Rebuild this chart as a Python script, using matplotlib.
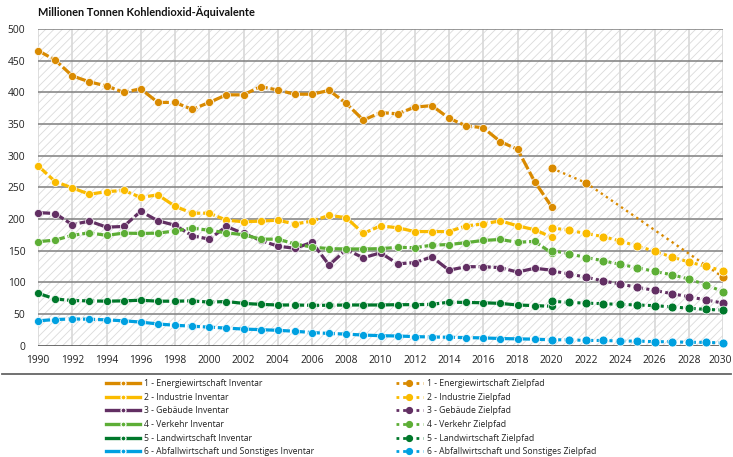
import matplotlib
matplotlib.use("Agg")
import matplotlib.pyplot as plt
from matplotlib.lines import Line2D
from matplotlib.patches import Rectangle
from matplotlib.transforms import ScaledTranslation

plt.rcParams['font.family'] = ['Lato', 'DejaVu Sans']
plt.rcParams['hatch.linewidth'] = 0.6

# ---------------- data ----------------
years_inv = list(range(1990, 2021))
years_ziel = list(range(2020, 2031))
years_energie_ziel = [2020, 2022, 2030]

energie_inv = [466, 451, 426, 416.5, 410, 400, 405.5, 384, 384, 373, 384, 396, 396, 409,
               403.5, 397, 397, 403, 382.5, 356, 368, 366, 376.5, 379, 359, 347, 344,
               322, 310, 259, 219]
industrie_inv = [284, 259, 249, 239, 243, 245, 234, 238, 220, 209, 209, 198, 195.5, 196.5,
                 198, 192, 196.5, 205.5, 202, 177, 189, 186, 180, 180, 180, 189, 192, 197,
                 189, 183, 171]
gebaeude_inv = [210, 208.5, 191, 196.5, 187, 188, 212, 197, 190, 173.5, 168, 188, 177, 166,
                157, 153.5, 163, 127, 151.5, 138.5, 146.5, 129, 131, 140, 119, 124.5,
                124.5, 123, 116, 122, 119]
verkehr_inv = [164, 166.5, 174, 178, 174, 177.5, 177, 177.5, 181, 185.5, 182, 178, 175, 168,
               168, 160.5, 155.5, 153, 152.5, 152.5, 153, 155, 154.5, 158.5, 159.5, 162.5,
               166, 167.5, 163, 164.5, 146]
landwirtschaft_inv = [82.5, 73.5, 71, 70.5, 70, 70.5, 71.5, 70, 70, 70.5, 68.5, 69.5, 66.5,
                      65, 64, 64, 63.5, 63.5, 64, 64, 64, 64.5, 64.5, 65, 68.5, 68, 67.5,
                      66.5, 64, 63, 62]
abfall_inv = [39, 41, 42, 41.5, 40.5, 39, 37, 34, 32, 30.5, 29, 27.5, 26, 25, 24, 22.5, 20.5,
              19, 18, 16.5, 15.5, 15, 14, 13.5, 13, 12.5, 12, 11, 10.5, 10, 9]

energie_ziel = [280, 257, 108]
industrie_ziel = [186, 182, 177, 172, 165, 157, 149, 140, 132, 125, 118]
gebaeude_ziel = [118, 113, 108, 102, 97, 92, 87, 82, 77, 72, 67]
verkehr_ziel = [150, 145, 139, 134, 128, 123, 117, 112, 105, 96, 85]
landwirtschaft_ziel = [70, 68, 67, 66, 65, 64, 63, 61, 59, 57, 56]
abfall_ziel = [9, 9, 8, 8, 7, 7, 6, 6, 5, 5, 4]

sectors = ["1 - Energiewirtschaft", "2 - Industrie", "3 - Gebäude", "4 - Verkehr",
           "5 - Landwirtschaft", "6 - Abfallwirtschaft und Sonstiges"]
colors = ["#D98A00", "#FABB00", "#622F63", "#5DAE36", "#00782B", "#00A0E0"]

inv_series = [energie_inv, industrie_inv, gebaeude_inv, verkehr_inv,
              landwirtschaft_inv, abfall_inv]
ziel_series = [(years_energie_ziel, energie_ziel), (years_ziel, industrie_ziel),
               (years_ziel, gebaeude_ziel), (years_ziel, verkehr_ziel),
               (years_ziel, landwirtschaft_ziel), (years_ziel, abfall_ziel)]

title = "Millionen Tonnen Kohlendioxid-Äquivalente"
yticks = list(range(0, 501, 50))
xticks = list(range(1990, 2031, 2))

# ---------------- figure ----------------
W, H = 733, 457
fig = plt.figure(figsize=(W / 100, H / 100), dpi=100)
ax = fig.add_axes([38 / W, 1 - 345.5 / H, (723 - 38) / W, (345.5 - 29) / H])
ax.set_xlim(1990, 2030)
ax.set_ylim(0, 500)

# hatched background
bg = Rectangle((0, 0), 1, 1, transform=ax.transAxes, facecolor="white",
               edgecolor="#dadada", linewidth=0, hatch="////", zorder=0)
ax.add_patch(bg)
ax.set_facecolor("white")

for x in xticks:
    ax.axvline(x, color="#d8d8d8", lw=1.2, zorder=1)
for y in yticks[1:]:
    ax.axhline(y, color="#7f7f7f", lw=1.1, zorder=1)
ax.axhline(0, color="#444444", lw=1.8, zorder=1)

for s in ax.spines.values():
    s.set_visible(False)

# inventory lines
for name, col, vals in zip(sectors, colors, inv_series):
    ax.plot(years_inv, vals, color=col, lw=2.3, dashes=(3.8, 0.9),
            marker="o", ms=5.8, mfc=col, mec="white", mew=0.5,
            clip_on=False, zorder=3)

# target path lines
for i, (name, col, (yrs, vals)) in enumerate(zip(sectors, colors, ziel_series)):
    if i == 0:
        ax.plot(yrs, vals, color=col, lw=1.7, linestyle=(0, (1, 1.6)),
                marker="o", ms=6.4, mfc=col, mec="white", mew=0.5,
                clip_on=False, zorder=4)
    else:
        ax.plot(yrs, vals, color=col, lw=2.2, linestyle=(0, (1, 1.1)),
                marker="o", ms=6.4, mfc=col, mec="white", mew=0.5,
                clip_on=False, zorder=4)

ax.set_yticks(yticks)
ax.set_xticks(xticks)
ax.set_yticklabels([str(v) for v in yticks])
ax.set_xticklabels([str(v) for v in xticks])
ax.tick_params(axis="both", length=0, labelsize=7.4, labelcolor="#222222")
ax.tick_params(axis="y", pad=9)
ax.tick_params(axis="x", pad=7)
for lab in ax.get_xticklabels() + ax.get_yticklabels():
    lab.set_fontfamily(["Open Sans", "DejaVu Sans"])
last = ax.get_xticklabels()[-1]
last.set_transform(last.get_transform() + ScaledTranslation(-3 / 100, 0, fig.dpi_scale_trans))

fig.text(38 / W, 1 - 16.5 / H, title, fontsize=7.9, fontweight="bold",
         color="#111111", ha="left", va="baseline")

# separator line
fig.add_artist(Line2D([0.003, 0.997], [1 - 374 / H, 1 - 374 / H],
                      transform=fig.transFigure, color="#666666", lw=1.3))

# legends
inv_handles = [Line2D([], [], color=c, lw=2.4, marker="o", ms=3.6, mfc=c,
                      mec="white", mew=0.9) for c in colors]
inv_labels = [s + " Inventar" for s in sectors]
ziel_handles = [Line2D([], [], color=c, lw=2.0, linestyle=(0, (1, 1.4)),
                       marker="o", ms=4.2, mfc=c, mec=c) for c in colors]
ziel_labels = [s + " Zielpfad" for s in sectors]

leg_kw = dict(loc="upper left", frameon=False,
              prop={"family": ["Open Sans", "DejaVu Sans"], "size": 6.2},
              labelspacing=0.54, borderpad=0, borderaxespad=0)
leg1 = fig.legend(inv_handles, inv_labels, bbox_to_anchor=(106 / W, 1 - 379 / H),
                  handlelength=3.95, handletextpad=0.5, **leg_kw)
leg2 = fig.legend(ziel_handles, ziel_labels, bbox_to_anchor=(396 / W, 1 - 379 / H),
                  handlelength=3.1, handletextpad=0.55, **leg_kw)
for leg in (leg1, leg2):
    for t in leg.get_texts():
        t.set_color("#222222")

fig.savefig("out.png", dpi=100)
